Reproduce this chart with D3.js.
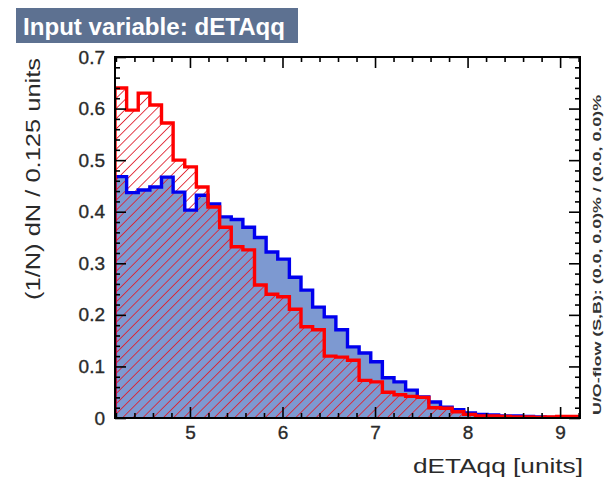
<!DOCTYPE html>
<html>
<head>
<meta charset="utf-8">
<script src="https://cdn.jsdelivr.net/npm/d3@7"></script>
<style>
  html, body { margin: 0; padding: 0; background: #fff; }
  svg { display: block; }
</style>
</head>
<body>
<svg id="chart" width="607" height="480"></svg>
<script>
// Histogram range and binning for dETAqq
const xRange = [4.19, 9.215];
const nBins = 40;

// Signal (blue, filled) normalised bin contents
const signalValues = [
  0.468, 0.437, 0.442, 0.448, 0.467, 0.438, 0.403, 0.432, 0.415, 0.390,
  0.385, 0.370, 0.350, 0.322, 0.308, 0.273, 0.248, 0.215, 0.196, 0.171,
  0.138, 0.126, 0.109, 0.078, 0.070, 0.054, 0.041, 0.031, 0.021, 0.016,
  0.010, 0.007, 0.006, 0.004, 0.004, 0.003, 0.002, 0.001, 0.001, 0.001
];

// Background (red, hatched) normalised bin contents
const backgroundValues = [
  0.640, 0.597, 0.630, 0.607, 0.572, 0.500, 0.487, 0.448, 0.409, 0.370,
  0.332, 0.326, 0.258, 0.240, 0.235, 0.211, 0.177, 0.171, 0.120, 0.118,
  0.112, 0.073, 0.070, 0.050, 0.045, 0.042, 0.040, 0.020, 0.019, 0.012,
  0.007, 0.004, 0.004, 0.003, 0.002, 0.002, 0.001, 0.002, 0.003, 0.003
];

// Axis ticks
const xMajorTicks = [5, 6, 7, 8, 9];
const yMajorTicks = [0, 0.1, 0.2, 0.3, 0.4, 0.5, 0.6, 0.7];
const yTickLabels = ["0", "0.1", "0.2", "0.3", "0.4", "0.5", "0.6", "0.7"];

// Text
const titleText = "Input variable: dETAqq";
const xTitle = "dETAqq  [units]";
const yTitle = "(1/N) dN / 0.125 units";
const overflowText = "U/O-flow (S,B): (0.0, 0.0)% / (0.0, 0.0)%";

const svg = d3.select("#chart");
const frame = { left: 115, right: 580, top: 57, bottom: 418 };

const x = d3.scaleLinear().domain(xRange).range([frame.left, frame.right]);
const y = d3.scaleLinear().domain([0, 0.7]).range([frame.bottom, frame.top]);

const binWidth = (xRange[1] - xRange[0]) / nBins;
const bins = d3.range(nBins).map(i => ({
  x0: xRange[0] + i * binWidth,
  x1: xRange[0] + (i + 1) * binWidth
}));

// Step outline of a histogram, closed along the baseline
function stepPath(values) {
  const p = d3.path();
  p.moveTo(x(bins[0].x0), y(0));
  values.forEach((v, i) => {
    p.lineTo(x(bins[i].x0), y(v));
    p.lineTo(x(bins[i].x1), y(v));
  });
  p.lineTo(x(bins[nBins - 1].x1), y(0));
  return p.toString();
}

// Diagonal hatch pattern for the background histogram
const defs = svg.append("defs");
const hatch = defs.append("pattern")
  .attr("id", "hatch")
  .attr("patternUnits", "userSpaceOnUse")
  .attr("width", 7.2)
  .attr("height", 7.2)
  .attr("patternTransform", "rotate(45)");
hatch.append("line")
  .attr("x1", 0).attr("y1", 0)
  .attr("x2", 0).attr("y2", 7.2)
  .attr("stroke", "#e01f2e")
  .attr("stroke-width", 1.7);

defs.append("clipPath").attr("id", "frameClip")
  .append("rect")
  .attr("x", frame.left).attr("y", frame.top)
  .attr("width", frame.right - frame.left)
  .attr("height", frame.bottom - frame.top);

const labelFont = "Liberation Sans, Arial, Helvetica, sans-serif";

// Title box
svg.append("rect")
  .attr("x", 16).attr("y", 8)
  .attr("width", 282).attr("height", 35)
  .attr("fill", "#5d7191");
svg.append("text")
  .attr("x", 23).attr("y", 35)
  .attr("font-family", labelFont)
  .attr("font-weight", "bold")
  .attr("font-size", 23)
  .attr("textLength", 262)
  .attr("lengthAdjust", "spacingAndGlyphs")
  .attr("fill", "#ffffff")
  .text(titleText);

const plot = svg.append("g").attr("clip-path", "url(#frameClip)");

// Signal: filled histogram
plot.append("path")
  .attr("d", stepPath(signalValues))
  .attr("fill", "#7d99d1")
  .attr("stroke", "none");

// Background: hatched histogram
plot.append("path")
  .attr("d", stepPath(backgroundValues))
  .attr("fill", "url(#hatch)")
  .attr("stroke", "none");

// Outlines
plot.append("path")
  .attr("d", stepPath(signalValues))
  .attr("fill", "none")
  .attr("stroke", "#0000ee")
  .attr("stroke-width", 3.4);
plot.append("path")
  .attr("d", stepPath(backgroundValues))
  .attr("fill", "none")
  .attr("stroke", "#ff0000")
  .attr("stroke-width", 3.4);

// Axes (ticks point into the frame)
const xMinor = d3.range(Math.ceil(xRange[0] / 0.2) * 0.2, xRange[1], 0.2)
  .filter(v => !xMajorTicks.some(t => Math.abs(t - v) < 1e-6));
const yMinor = d3.range(0, 0.7001, 0.02)
  .filter(v => !yMajorTicks.some(t => Math.abs(t - v) < 1e-6));

function styleAxis(g) {
  g.select(".domain").remove();
  g.selectAll(".tick line").attr("stroke", "#000").attr("stroke-width", 1.6);
  g.selectAll("text")
    .attr("font-family", labelFont)
    .attr("font-size", 19)
    .attr("fill", "#2a2a2a")
    .attr("stroke", "#2a2a2a")
    .attr("stroke-width", 0.35);
}

svg.append("g")
  .attr("transform", `translate(0,${frame.bottom})`)
  .call(d3.axisBottom(x).tickValues(xMajorTicks).tickFormat(d3.format("d"))
    .tickSizeInner(-11).tickSizeOuter(0).tickPadding(8))
  .call(styleAxis);
svg.append("g")
  .attr("transform", `translate(0,${frame.bottom})`)
  .call(d3.axisBottom(x).tickValues(xMinor).tickFormat("")
    .tickSizeInner(-5).tickSizeOuter(0))
  .call(styleAxis);
svg.append("g")
  .attr("transform", `translate(0,${frame.top})`)
  .call(d3.axisTop(x).tickValues(xMajorTicks).tickFormat("")
    .tickSizeInner(-11).tickSizeOuter(0))
  .call(styleAxis);
svg.append("g")
  .attr("transform", `translate(0,${frame.top})`)
  .call(d3.axisTop(x).tickValues(xMinor).tickFormat("")
    .tickSizeInner(-5).tickSizeOuter(0))
  .call(styleAxis);

svg.append("g")
  .attr("transform", `translate(${frame.left},0)`)
  .call(d3.axisLeft(y).tickValues(yMajorTicks)
    .tickFormat((d, i) => yTickLabels[i])
    .tickSizeInner(-11).tickSizeOuter(0).tickPadding(10))
  .call(styleAxis);
svg.append("g")
  .attr("transform", `translate(${frame.left},0)`)
  .call(d3.axisLeft(y).tickValues(yMinor).tickFormat("")
    .tickSizeInner(-5).tickSizeOuter(0))
  .call(styleAxis);
svg.append("g")
  .attr("transform", `translate(${frame.right},0)`)
  .call(d3.axisRight(y).tickValues(yMajorTicks).tickFormat("")
    .tickSizeInner(-11).tickSizeOuter(0))
  .call(styleAxis);
svg.append("g")
  .attr("transform", `translate(${frame.right},0)`)
  .call(d3.axisRight(y).tickValues(yMinor).tickFormat("")
    .tickSizeInner(-5).tickSizeOuter(0))
  .call(styleAxis);

// Frame
svg.append("rect")
  .attr("x", frame.left).attr("y", frame.top)
  .attr("width", frame.right - frame.left)
  .attr("height", frame.bottom - frame.top)
  .attr("fill", "none")
  .attr("stroke", "#000")
  .attr("stroke-width", 2);

// Axis titles
svg.append("text")
  .attr("x", 583).attr("y", 473)
  .attr("text-anchor", "end")
  .attr("font-family", labelFont)
  .attr("font-size", 21)
  .attr("textLength", 170)
  .attr("lengthAdjust", "spacingAndGlyphs")
  .attr("fill", "#2a2a2a")
  .text(xTitle);

svg.append("text")
  .attr("transform", `translate(40,300) rotate(-90)`)
  .attr("text-anchor", "start")
  .attr("font-family", labelFont)
  .attr("font-size", 21)
  .attr("textLength", 242)
  .attr("lengthAdjust", "spacingAndGlyphs")
  .attr("fill", "#2a2a2a")
  .text(yTitle);

svg.append("text")
  .attr("transform", `translate(601,415) rotate(-90)`)
  .attr("text-anchor", "start")
  .attr("font-family", labelFont)
  .attr("font-weight", "bold")
  .attr("font-size", 11)
  .attr("textLength", 320)
  .attr("lengthAdjust", "spacingAndGlyphs")
  .attr("fill", "#333")
  .text(overflowText);
</script>
</body>
</html>
